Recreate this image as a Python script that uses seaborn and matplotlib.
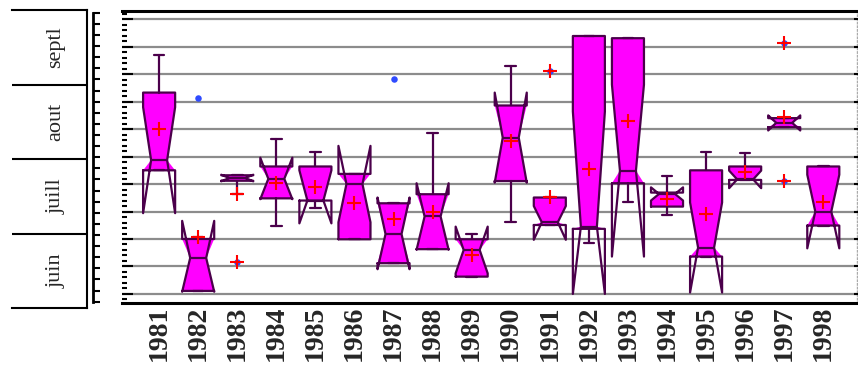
import numpy as np
import matplotlib
matplotlib.use("Agg")
import matplotlib.pyplot as plt
from matplotlib.ticker import AutoMinorLocator
import seaborn as sns

# ---- data (value scale: one unit per grid line) ----
years   = [str(y) for y in range(1981, 1999)]
q1      = [4.50, 0.11, 4.12, 3.48, 3.40, 1.99, 1.12, 1.63, 0.63, 4.11, 2.51, 2.37, 4.03, 3.18, 1.36, 4.15, 6.07, 2.49]
median  = [4.87, 1.31, 4.22, 4.19, 3.40, 4.00, 2.18, 2.82, 1.60, 5.69, 2.61, 2.45, 4.49, 3.64, 1.69, 4.17, 6.23, 3.00]
q3      = [7.33, 2.00, 4.32, 4.64, 4.64, 4.37, 3.30, 3.63, 1.99, 6.86, 3.51, 9.39, 9.31, 3.69, 4.50, 4.64, 6.40, 4.64]
ci_lo   = [2.94, 0.08, 4.10, 3.45, 2.57, 2.61, 0.90, 1.61, 0.75, 4.05, 1.97, 0.00, 1.36, 3.40, 0.05, 3.85, 5.95, 1.66]
ci_hi   = [6.80, 2.66, 4.34, 4.96, 4.50, 5.39, 3.51, 4.03, 2.45, 7.33, 3.20, 6.64, 7.62, 3.88, 3.33, 4.49, 6.50, 4.34]
whis_lo = [4.50, 0.11, 3.63, 2.49, 3.12, 1.99, 1.12, 1.63, 0.63, 2.63, 2.51, 1.87, 3.33, 2.88, 1.36, 4.15, 6.07, 2.49]
whis_hi = [8.70, 2.08, 4.32, 5.63, 5.18, 4.37, 3.30, 5.87, 2.18, 8.30, 3.54, 9.39, 9.31, 4.31, 5.18, 5.12, 6.40, 4.64]
means   = [6.01, 2.07, 3.63, 4.03, 3.91, 3.30, 2.73, 3.00, 1.42, 5.55, 3.54, 4.54, 6.30, 3.46, 2.91, 4.43, 6.43, 3.36]

out_years = ["1982", "1987"]
out_vals  = [7.12, 7.82]
far_years = ["1983", "1991", "1997", "1997"]
far_vals  = [1.18, 8.12, 9.13, 4.11]

months = ["juin", "juill", "aout", "septl"]

FILL = "#FF00FF"; EDGE = "#4B004B"; GRID = "#8C8C8C"
SERIF = ["Liberation Serif", "DejaVu Serif"]

sns.set_style("white")
plt.rcParams["font.family"] = SERIF

fig = plt.figure(figsize=(8.58, 3.69), dpi=100)
W, H = 858, 369
ax = fig.add_axes([122 / W, (H - 303) / H, 734.5 / W, 292 / H])

pos = np.arange(len(years))
stats, fill_stats = [], []
for i, y in enumerate(years):
    s = dict(med=median[i], q1=q1[i], q3=q3[i], whislo=whis_lo[i], whishi=whis_hi[i],
             cilo=ci_lo[i], cihi=ci_hi[i], fliers=[], label=y)
    stats.append(s)
    f = dict(s); f["cilo"] = max(ci_lo[i], q1[i]); f["cihi"] = min(ci_hi[i], q3[i])
    fill_stats.append(f)

# filled body (notch clipped to the box), then full outline
ax.bxp(fill_stats, positions=pos, widths=0.82, shownotches=True, patch_artist=True,
       showcaps=False, showfliers=False, manage_ticks=False,
       boxprops=dict(facecolor=FILL, edgecolor="none", linewidth=0),
       whiskerprops=dict(linewidth=0), medianprops=dict(linewidth=0))
ax.bxp(stats, positions=pos, widths=0.82, shownotches=True, patch_artist=False,
       showfliers=False, manage_ticks=False, capwidths=0.27,
       boxprops=dict(color=EDGE, linewidth=1.6), whiskerprops=dict(color=EDGE, linewidth=1.6),
       capprops=dict(color=EDGE, linewidth=1.6), medianprops=dict(color=EDGE, linewidth=1.6))

out_x = [years.index(y) for y in out_years]
far_x = [years.index(y) for y in far_years]
sns.scatterplot(x=out_x, y=out_vals, ax=ax, color="#2F4BFF", s=22, linewidth=0, zorder=5)
sns.scatterplot(x=far_x, y=far_vals, ax=ax, color="#2F4BFF", s=22, linewidth=0, zorder=5)
sns.scatterplot(x=far_x, y=far_vals, ax=ax, color="red", marker="+", s=90, linewidth=1.5, zorder=6)
sns.scatterplot(x=pos, y=means, ax=ax, color="red", marker="+", s=90, linewidth=1.5, zorder=6)

ax.set_xlim(-0.95, 17.85)
ax.set_ylim(-0.33, 10.30)
ax.set_xticks(pos)
ax.set_xticklabels(years, rotation=90, fontsize=20, fontweight="bold", family=SERIF)
ax.tick_params(axis="x", length=0, pad=2)
ax.set_yticks(range(11))
ax.set_yticklabels([])
ax.yaxis.set_minor_locator(AutoMinorLocator(5))
ax.tick_params(axis="y", which="major", direction="in", length=8, width=1.5, color="black", left=True, right=False)
ax.tick_params(axis="y", which="minor", direction="in", length=3.6, width=1.5, color="black", left=True, right=False)
ax.grid(axis="y", color=GRID, linewidth=1.6)
ax.set_axisbelow(True)
ax.set_xlabel(""); ax.set_ylabel("")
ax.spines["left"].set_visible(False)
for sp in ("top", "bottom"):
    ax.spines[sp].set_color("black"); ax.spines[sp].set_linewidth(2.2)
ax.spines["right"].set_linestyle(":"); ax.spines["right"].set_color("#AAAAAA"); ax.spines["right"].set_linewidth(1)

axr = ax.twinx()
axr.set_ylim(ax.get_ylim())
axr.set_yticks(range(11)); axr.set_yticklabels([])
axr.tick_params(axis="y", direction="inout", length=5, width=1.5, color="black", right=True)
for sp in axr.spines.values():
    sp.set_visible(False)

# month blocks on the left
axm = fig.add_axes([11.7 / W, (H - 308) / H, 75.6 / W, 298 / H])
axm.set_xlim(0, 1); axm.set_ylim(0, 4)
axm.set_xticks([]); axm.set_yticks([])
axm.patch.set_alpha(0)
axm.spines["left"].set_visible(False)
for sp in ("top", "bottom", "right"):
    axm.spines[sp].set_linewidth(1.5); axm.spines[sp].set_color("black")
for k in range(1, 4):
    axm.axhline(k, color="black", linewidth=1.5)
for k, m in enumerate(months):
    axm.text(0.583, k + 0.5, m, rotation=90, ha="center", va="center", fontsize=16, family=SERIF)

# tick bracket
axb = fig.add_axes([93.3 / W, (H - 301.7) / H, 0.004, 289 / H])
axb.set_ylim(0, 26)
axb.set_yticks(range(27)); axb.set_yticklabels([])
axb.set_xticks([])
axb.patch.set_alpha(0)
for sp in ("top", "bottom", "right"):
    axb.spines[sp].set_visible(False)
axb.spines["left"].set_linewidth(2); axb.spines["left"].set_color("black")
axb.tick_params(axis="y", direction="in", length=5, width=1.5, color="black", left=True)

fig.savefig("out.png", dpi=100)
